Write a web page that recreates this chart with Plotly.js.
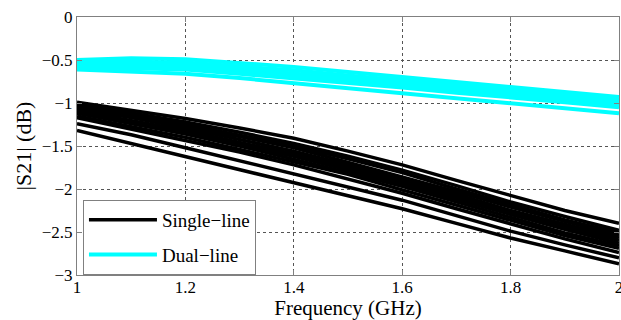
<!DOCTYPE html>
<html>
<head>
<meta charset="utf-8">
<script src="https://cdn.plot.ly/plotly-3.0.1.min.js"></script>
<style>html,body{margin:0;padding:0;background:#fff;}#chart{width:621px;height:320px;}</style>
</head>
<body>
<div id="chart"></div>
<script>
// Frequency axis (GHz)
const freq = [1.0, 1.1, 1.2, 1.3, 1.4, 1.5, 1.6, 1.7, 1.8, 1.9, 2.0];

// Single-line |S21| (dB) measurements
const single1  = [-0.99, -1.08, -1.18, -1.29, -1.41, -1.56, -1.72, -1.90, -2.08, -2.25, -2.40];
const single2  = [-1.01, -1.11, -1.22, -1.34, -1.47, -1.62, -1.78, -1.96, -2.15, -2.32, -2.48];
const single3  = [-1.03, -1.13, -1.25, -1.37, -1.50, -1.65, -1.81, -2.00, -2.18, -2.36, -2.51];
const single4  = [-1.05, -1.16, -1.27, -1.39, -1.52, -1.69, -1.85, -2.03, -2.21, -2.38, -2.54];
const single5  = [-1.07, -1.17, -1.29, -1.42, -1.56, -1.72, -1.88, -2.06, -2.25, -2.41, -2.57];
const single6  = [-1.09, -1.20, -1.32, -1.46, -1.59, -1.75, -1.91, -2.09, -2.28, -2.44, -2.60];
const single7  = [-1.11, -1.22, -1.35, -1.48, -1.62, -1.78, -1.94, -2.12, -2.30, -2.47, -2.63];
const single8  = [-1.12, -1.24, -1.36, -1.50, -1.65, -1.81, -1.97, -2.15, -2.33, -2.51, -2.66];
const single9  = [-1.15, -1.27, -1.40, -1.54, -1.68, -1.83, -2.01, -2.19, -2.37, -2.54, -2.69];
const single10 = [-1.17, -1.30, -1.43, -1.57, -1.72, -1.88, -2.05, -2.23, -2.41, -2.58, -2.74];
const single11 = [-1.24, -1.37, -1.52, -1.67, -1.82, -1.97, -2.13, -2.31, -2.49, -2.65, -2.80];
const single12 = [-1.32, -1.47, -1.62, -1.77, -1.92, -2.07, -2.23, -2.40, -2.57, -2.72, -2.87];

// Dual-line |S21| (dB) measurements
const dual1 = [-0.50, -0.48, -0.49, -0.53, -0.58, -0.64, -0.70, -0.75, -0.81, -0.87, -0.93];
const dual2 = [-0.53, -0.52, -0.53, -0.57, -0.62, -0.68, -0.74, -0.79, -0.84, -0.90, -0.96];
const dual3 = [-0.55, -0.55, -0.56, -0.60, -0.66, -0.71, -0.77, -0.82, -0.88, -0.93, -0.99];
const dual4 = [-0.57, -0.57, -0.59, -0.63, -0.68, -0.74, -0.79, -0.85, -0.90, -0.96, -1.02];
const dual5 = [-0.58, -0.59, -0.61, -0.66, -0.71, -0.77, -0.82, -0.88, -0.93, -0.99, -1.05];
const dual6 = [-0.61, -0.63, -0.66, -0.71, -0.77, -0.83, -0.88, -0.94, -1.00, -1.06, -1.12];

const singleSeries = [single1, single2, single3, single4, single5, single6, single7, single8, single9, single10, single11, single12];
const dualSeries = [dual1, dual2, dual3, dual4, dual5, dual6];

const xTicks = [1, 1.2, 1.4, 1.6, 1.8, 2];
const xTickText = ['1', '1.2', '1.4', '1.6', '1.8', '2'];
const yTicks = [0, -0.5, -1, -1.5, -2, -2.5, -3];
const yTickText = ['0', '\u22120.5', '\u22121', '\u22121.5', '\u22122', '\u22122.5', '\u22123'];

const traces = [];
singleSeries.forEach((ys, i) => {
  traces.push({x: freq, y: ys, type: 'scatter', mode: 'lines',
    line: {color: '#000000', width: 3.5}, name: 'Single\u2212line',
    legendgroup: 'single', showlegend: i === 0});
});
dualSeries.forEach((ys, i) => {
  traces.push({x: freq, y: ys, type: 'scatter', mode: 'lines',
    line: {color: '#00FFFF', width: 4}, name: 'Dual\u2212line',
    legendgroup: 'dual', showlegend: i === 0});
});

const font = 'Liberation Serif, Times New Roman, serif';
const axisCommon = {
  showline: true, linecolor: '#808080', linewidth: 1, mirror: 'ticks',
  ticks: 'inside', ticklen: 5, tickcolor: '#808080',
  showgrid: true, gridcolor: '#555555', gridwidth: 1, griddash: 'dot',
  zeroline: false, ticklabeloverflow: 'allow',
  tickfont: {family: font, size: 17, color: '#000'}
};

const layout = {
  width: 621, height: 320,
  margin: {l: 77, r: 2, t: 17, b: 45},
  paper_bgcolor: '#fff', plot_bgcolor: '#fff',
  font: {family: font, color: '#000'},
  xaxis: Object.assign({}, axisCommon, {
    range: [1, 2.00001], tickvals: xTicks, ticktext: xTickText,
    ticklabelstandoff: -3,
    title: {text: 'Frequency (GHz)', font: {family: font, size: 21, color: '#000'}, standoff: 5}
  }),
  yaxis: Object.assign({}, axisCommon, {
    range: [-3, 0], tickvals: yTicks, ticktext: yTickText,
    title: {text: '|S21| (dB)', font: {family: font, size: 22, color: '#000'}, standoff: 4}
  }),
  legend: {
    x: 0.011, y: 0, xanchor: 'left', yanchor: 'bottom',
    bgcolor: '#fff', bordercolor: '#808080', borderwidth: 1,
    font: {family: font, size: 19, color: '#000'},
    tracegroupgap: 7, itemwidth: 68
  },
  showlegend: true
};

Plotly.newPlot('chart', traces, layout, {displayModeBar: false, staticPlot: true});
</script>
</body>
</html>
